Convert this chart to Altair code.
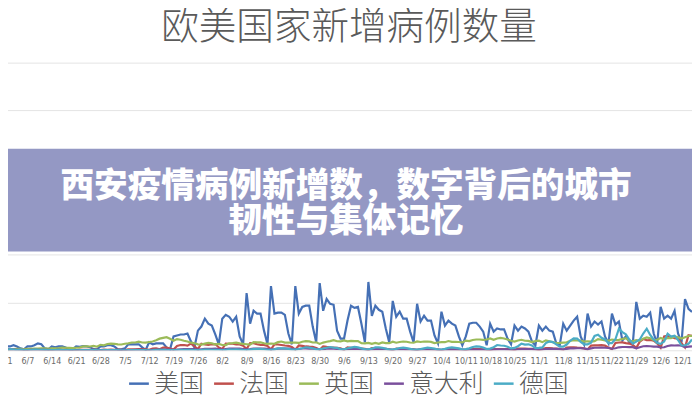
import altair as alt
import pandas as pd

# ---------------- text ----------------
title_text = "欧美国家新增病例数量"
banner_line1 = "西安疫情病例新增数，数字背后的城市"
banner_line2 = "韧性与集体记忆"

# ---------------- categories / colours ----------------
countries = ["美国", "法国", "英国", "意大利", "德国"]
colors = ["#4570b5", "#c0504d", "#9bbb59", "#7a4f9c", "#4bacc6"]

# ---------------- x axis ----------------
start_date = "2021-05-31"
tick_labels = ["5/31", "6/7", "6/14", "6/21", "6/28", "7/5", "7/12", "7/19", "7/26",
               "8/2", "8/9", "8/16", "8/23", "8/30", "9/6", "9/13", "9/20", "9/27",
               "10/4", "10/11", "10/18", "10/25", "11/1", "11/8", "11/15", "11/22",
               "11/29", "12/6", "12/13"]

# ---------------- daily new cases (thousands), 5/31 .. 12/15 ----------------
us_k = [8, 16, 16, 21, 16, 8, 4,
        16, 16, 21, 29, 25, 8, 4,
        16, 12, 16, 16, 12, 4, 4,
        16, 14, 17, 16, 13, 5, 4,
        16, 16, 21, 21, 16, 4, 4,
        8, 25, 25, 25, 25, 12, 2,
        33, 25, 29, 29, 29, 12, 4,
        58, 62, 66, 66, 70, 37, 12,
        82, 99, 132, 111, 103, 66, 25,
        132, 148, 140, 120, 140, 58, 25,
        239, 111, 165, 153, 153, 82, 25,
        268, 153, 157, 157, 148, 70, 25,
        268, 153, 181, 186, 186, 99, 33,
        280, 165, 214, 194, 190, 82, 49,
        49, 124, 186, 177, 181, 111, 33,
        285, 144, 186, 169, 161, 91, 33,
        206, 140, 161, 132, 132, 78, 33,
        194, 120, 144, 124, 124, 62, 29,
        161, 103, 124, 111, 103, 58, 21,
        58, 111, 115, 115, 99, 78, 21,
        111, 78, 91, 87, 87, 49, 25,
        103, 82, 99, 91, 78, 37, 21,
        103, 82, 99, 82, 78, 29, 21,
        111, 82, 103, 124, 140, 58, 25,
        153, 99, 120, 107, 120, 58, 29,
        153, 107, 120, 41, 58, 33, 29,
        202, 132, 144, 140, 157, 70, 29,
        181, 132, 144, 132, 165, 70, 33,
        214, 173, 160]

fr_k = [1.7, 5.4, 5.0, 5.0, 4.4, 3.4, 2.5,
        1.6, 4.4, 3.9, 3.8, 3.3, 2.9, 2.1,
        1.0, 3.6, 3.2, 2.9, 2.5, 2.2, 1.6,
        0.6, 2.6, 2.4, 2.3, 2.1, 1.8, 1.4,
        0.7, 2.8, 2.4, 2.5, 2.2, 2.6, 2.0,
        0.8, 4.0, 4.0, 4.3, 4.9, 4.5, 3.8,
        2.2, 6.8, 8.0, 4.0, 11.0, 10.9, 7.5,
        3.4, 18.2, 21.9, 21.9, 19.6, 28.0, 16.8,
        5.0, 27.4, 24.3, 22.2, 25.0, 26.0, 12.0,
        5.2, 28.2, 27.4, 27.2, 24.6, 24.4, 19.2,
        5.0, 30.0, 29.5, 25.0, 22.6, 22.0, 18.0,
        3.6, 24.7, 24.2, 22.0, 20.0, 18.5, 14.0,
        2.6, 20.0, 18.5, 16.0, 15.0, 14.5, 10.0,
        2.0, 16.0, 14.0, 12.5, 11.5, 10.0, 7.8,
        1.5, 12.0, 10.5, 9.0, 8.5, 7.5, 6.0,
        1.0, 9.0, 8.0, 7.0, 6.5, 6.0, 4.5,
        0.8, 7.0, 6.5, 5.5, 5.0, 4.5, 3.5,
        0.7, 5.5, 5.0, 4.5, 4.5, 4.0, 3.0,
        0.6, 5.0, 4.8, 4.3, 4.4, 4.0, 3.2,
        0.6, 4.8, 4.7, 4.6, 4.5, 4.3, 3.0,
        0.8, 5.5, 5.0, 5.5, 5.3, 5.0, 3.7,
        1.0, 7.0, 6.8, 6.7, 6.5, 6.0, 4.3,
        0.8, 5.0, 9.0, 9.5, 8.0, 7.5, 5.5,
        2.0, 11.0, 12.0, 12.5, 11.0, 10.0, 8.0,
        3.5, 19.7, 20.3, 20.3, 21.3, 19.3, 11.6,
        5.3, 30.5, 32.6, 32.7, 30.0, 28.0, 22.0,
        10.0, 36.0, 47.0, 42.0, 43.0, 40.0, 29.0,
        11.0, 58.0, 61.0, 56.0, 50.0, 48.0, 30.0,
        12.0, 63.0, 60.0]

uk_k = [3.2, 3.2, 4.3, 5.3, 6.2, 5.8, 5.3,
        5.7, 6.0, 7.5, 7.4, 8.1, 7.7, 7.5,
        7.7, 7.7, 9.1, 11.0, 10.5, 10.3, 9.3,
        10.6, 11.6, 16.1, 16.7, 15.8, 18.3, 14.9,
        22.9, 20.5, 26.1, 27.9, 27.1, 24.9, 24.2,
        27.3, 28.8, 32.5, 32.6, 35.7, 32.4, 31.8,
        34.5, 36.7, 42.3, 48.6, 51.9, 54.7, 48.2,
        39.9, 46.6, 44.1, 39.9, 36.4, 31.8, 29.2,
        24.9, 23.5, 27.7, 31.1, 29.6, 24.5, 26.5,
        21.9, 21.7, 29.3, 30.2, 31.8, 29.0, 26.8,
        25.2, 23.5, 33.9, 33.1, 32.7, 29.5, 27.0,
        28.4, 26.9, 33.9, 36.6, 32.1, 32.3, 31.9,
        31.9, 30.8, 35.8, 38.3, 37.0, 32.4, 33.0,
        26.5, 32.2, 35.7, 38.2, 42.1, 37.6, 37.0,
        41.2, 37.5, 38.9, 38.1, 38.0, 29.5, 29.1,
        30.8, 26.6, 30.6, 26.9, 32.7, 30.1, 29.6,
        36.1, 31.6, 34.5, 36.7, 35.6, 32.4, 31.6,
        37.2, 34.5, 36.5, 36.5, 35.0, 30.3, 32.6,
        33.9, 33.9, 38.5, 35.0, 35.0, 34.6, 32.8,
        40.2, 38.5, 42.8, 45.1, 44.9, 43.4, 45.1,
        49.2, 43.7, 49.1, 52.0, 49.3, 44.9, 39.9,
        36.6, 40.9, 43.9, 39.8, 39.3, 34.0, 38.1,
        40.1, 33.9, 41.3, 37.3, 34.0, 30.3, 30.7,
        32.3, 33.1, 39.3, 42.4, 41.0, 40.4, 36.5,
        37.7, 36.5, 38.3, 46.8, 44.2, 40.9, 40.0,
        44.9, 42.5, 43.6, 47.2, 50.3, 39.6, 37.7,
        42.6, 39.7, 48.4, 53.9, 50.6, 42.4, 43.9,
        51.5, 45.7, 51.3, 50.9, 58.2, 54.1, 48.9,
        54.7, 59.6, 60.0]

it_k = [1.8, 2.5, 2.9, 2.6, 2.4, 2.4, 1.8,
        1.3, 2.2, 2.2, 2.1, 1.9, 1.7, 1.4,
        0.9, 1.3, 1.4, 1.3, 1.2, 1.2, 0.9,
        0.5, 0.8, 0.9, 0.9, 0.9, 0.8, 0.7,
        0.4, 0.7, 0.8, 0.8, 0.8, 0.8, 0.8,
        0.5, 0.9, 1.0, 1.4, 1.4, 1.4, 1.0,
        0.9, 1.5, 2.1, 2.5, 2.9, 3.1, 2.5,
        1.6, 3.1, 4.3, 5.1, 5.1, 5.1, 4.7,
        3.1, 4.5, 5.7, 6.2, 6.5, 6.6, 5.3,
        3.2, 4.8, 6.6, 6.6, 7.2, 6.6, 5.5,
        4.2, 5.3, 6.9, 7.4, 7.4, 6.6, 5.6,
        3.7, 4.8, 7.2, 7.3, 7.1, 6.9, 5.7,
        4.2, 5.2, 7.5, 7.8, 7.0, 6.9, 5.9,
        4.0, 5.0, 6.9, 6.8, 6.7, 6.0, 5.0,
        3.4, 4.4, 5.9, 5.9, 5.7, 5.2, 4.0,
        2.8, 3.4, 4.8, 4.9, 4.6, 4.2, 3.3,
        2.4, 3.2, 3.9, 3.8, 3.9, 3.7, 3.0,
        1.8, 2.6, 3.7, 3.6, 3.6, 3.4, 2.8,
        1.8, 2.5, 2.9, 3.0, 3.0, 2.9, 2.3,
        1.8, 2.3, 2.8, 2.7, 3.0, 2.7, 2.4,
        1.6, 2.8, 3.7, 3.8, 3.9, 3.5, 3.0,
        2.5, 3.4, 4.6, 4.9, 5.0, 4.9, 3.9,
        2.9, 3.3, 5.3, 6.0, 6.4, 6.0, 5.0,
        3.6, 5.9, 7.9, 7.9, 8.5, 8.5, 7.6,
        5.1, 7.7, 10.6, 10.6, 11.0, 10.5, 9.7,
        6.4, 8.5, 12.4, 13.8, 13.7, 12.9, 12.9,
        7.9, 12.8, 16.8, 17.9, 16.8, 15.0, 15.0,
        11.7, 12.6, 17.9, 20.4, 20.0, 21.0, 19.2,
        12.7, 15.0, 16.0]

de_k = [1.1, 2.0, 4.9, 3.2, 1.0, 3.0, 1.5,
        1.2, 1.2, 3.3, 2.6, 2.4, 1.9, 1.3,
        0.5, 0.6, 1.5, 1.3, 1.1, 0.8, 0.6,
        0.3, 0.4, 1.0, 0.9, 0.8, 0.5, 0.4,
        0.2, 0.6, 0.9, 0.9, 0.7, 0.5, 0.3,
        0.2, 0.6, 1.0, 0.9, 0.8, 0.7, 0.5,
        0.3, 0.6, 1.5, 1.4, 1.5, 1.2, 0.7,
        0.5, 1.2, 2.2, 2.0, 2.1, 1.6, 0.8,
        0.7, 1.5, 2.8, 2.8, 2.4, 2.0, 1.0,
        0.9, 2.0, 3.6, 3.3, 3.5, 2.5, 1.5,
        1.2, 2.5, 5.0, 5.6, 5.6, 4.2, 2.0,
        1.6, 4.0, 7.7, 8.4, 7.7, 6.0, 3.0,
        2.5, 5.4, 8.4, 12.6, 11.0, 8.5, 4.0,
        4.0, 7.5, 10.5, 13.7, 11.0, 10.0, 5.0,
        4.0, 8.3, 11.0, 14.0, 12.0, 8.0, 4.0,
        3.7, 6.7, 12.0, 12.0, 10.0, 7.0, 3.0,
        3.5, 6.0, 9.7, 11.0, 8.8, 6.0, 3.0,
        3.0, 5.0, 8.0, 11.0, 9.0, 7.0, 3.0,
        3.3, 6.0, 10.0, 12.0, 10.0, 8.0, 4.0,
        5.0, 8.0, 14.0, 16.0, 15.0, 12.0, 5.0,
        7.0, 13.0, 22.0, 20.0, 19.0, 15.0, 8.0,
        10.0, 17.0, 28.0, 24.0, 25.0, 20.0, 9.0,
        10.0, 12.0, 30.0, 37.0, 34.0, 25.0, 15.0,
        15.0, 24.0, 40.0, 50.0, 49.0, 35.0, 25.0,
        25.0, 32.0, 60.0, 65.0, 52.0, 45.0, 30.0,
        30.0, 46.0, 90.0, 76.0, 67.0, 45.0, 28.0,
        36.0, 45.0, 70.0, 90.0, 64.0, 45.0, 30.0,
        27.0, 37.0, 69.0, 57.0, 61.0, 43.0, 20.0,
        21.0, 27.0, 45.0]

series = [us_k, fr_k, uk_k, it_k, de_k]

# ---------------- build table ----------------
n_days = len(us_k)
dates = pd.date_range(start_date, periods=n_days, freq="D")
rows = []
for name, vals in zip(countries, series):
    for d, v in zip(dates, vals):
        rows.append({"date": d.strftime("%Y-%m-%d"), "country": name, "cases": v * 1000})
df = pd.DataFrame(rows)

tick_values = [alt.DateTime(year=2021, month=int(t.split("/")[0]), date=int(t.split("/")[1]), utc=True)
               for t in tick_labels]

x_scale = alt.Scale(type="utc",
                    domain=[alt.DateTime(year=2021, month=5, date=30, hours=3, minutes=33, utc=True),
                            alt.DateTime(year=2021, month=12, date=15, hours=0, minutes=14, utc=True)])

lines = alt.Chart(df).mark_line(strokeWidth=2.2, clip=True).encode(
    x=alt.X("date:T", scale=x_scale,
            axis=alt.Axis(values=tick_values, format="%-m/%-d", title=None, ticks=False,
                          domain=False, grid=False, labelOverlap=False, labelPadding=6,
                          labelFontSize=9, labelColor="#6a6a6a",
                          labelFont="Liberation Sans Narrow, DejaVu Sans Condensed, sans-serif")),
    y=alt.Y("cases:Q", scale=alt.Scale(domain=[0, 1200000], nice=False),
            axis=alt.Axis(values=[0, 200000, 400000, 600000, 800000, 1000000, 1200000],
                          labels=False, ticks=False, domain=False, title=None,
                          gridColor="#e4e4e4", gridWidth=1)),
    color=alt.Color("country:N", sort=countries,
                    scale=alt.Scale(domain=countries, range=colors),
                    legend=alt.Legend(orient="none", legendX=128, legendY=312,
                                      direction="horizontal", title=None,
                                      symbolType="stroke", symbolSize=400,
                                      symbolStrokeWidth=2.5, labelFontSize=25,
                                      labelFontWeight=300,
                                      labelColor="#5a5a5a", labelFont="Noto Sans CJK SC",
                                      labelOffset=3, columnPadding=4)),
    detail="country:N",
)

one = alt.Data(values=[{"k": 1}])

banner = alt.Chart(one).mark_rect(color="#9498c4").encode(
    x=alt.value(0), x2=alt.value(700), y=alt.value(87), y2=alt.value(191))

b1 = alt.Chart(one).mark_text(text=banner_line1, font="Noto Sans CJK SC", fontSize=34,
                              fontWeight=900, color="white", align="center",
                              baseline="middle").encode(x=alt.value(350), y=alt.value(126))
b2 = alt.Chart(one).mark_text(text=banner_line2, font="Noto Sans CJK SC", fontSize=34,
                              fontWeight=900, color="white", align="center",
                              baseline="middle").encode(x=alt.value(350), y=alt.value(161))

chart = alt.layer(lines, banner, b1, b2).properties(
    width=700, height=291,
    autosize=alt.AutoSizeParams(type="none"),
    padding={"left": -8, "top": 53, "right": 0, "bottom": 48},
    background="white",
    title=alt.TitleParams(text=title_text, fontSize=38, font="Noto Sans CJK SC",
                          fontWeight=300, color="#5a5a5a", anchor="middle",
                          frame="group", baseline="bottom", offset=11, dx=3, dy=33),
).configure_view(strokeWidth=0)

chart.save("out.html", embed_options={"renderer": "svg", "actions": False})
